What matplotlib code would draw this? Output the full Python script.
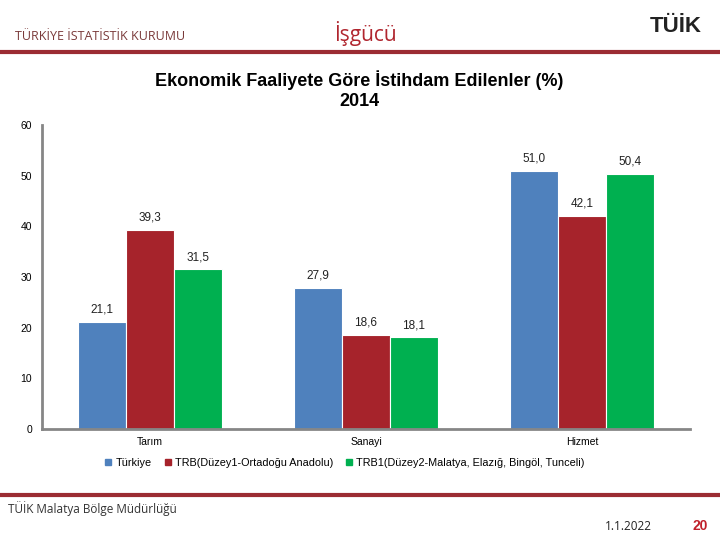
import matplotlib
matplotlib.use("Agg")
import matplotlib.pyplot as plt
from matplotlib.lines import Line2D
from matplotlib.patches import Rectangle
import numpy as np

categories = ["Tarım", "Sanayi", "Hizmet"]
series_names = ["Türkiye", "TRB(Düzey1-Ortadoğu Anadolu)", "TRB1(Düzey2-Malatya, Elazığ, Bingöl, Tunceli)"]
turkiye = [21.1, 27.9, 51.0]
trb = [39.3, 18.6, 42.1]
trb1 = [31.5, 18.1, 50.4]
yticks = [0, 10, 20, 30, 40, 50, 60]
colors = ["#4F81BD", "#A6232B", "#00B050"]

plt.rcParams['font.family'] = ['Liberation Sans', 'DejaVu Sans']

W, H = 720, 540
fig = plt.figure(figsize=(7.2, 5.4), dpi=100)

def fx(px):
    return px / W

def fy(py):
    return 1 - py / H

ax = fig.add_axes([fx(42), fy(429), fx(690 - 42), (429 - 125) / H])
x = np.arange(len(categories))
bw = 0.222
for i, (vals, c) in enumerate(zip([turkiye, trb, trb1], colors)):
    pos = x + (i - 1) * bw
    ax.bar(pos, vals, width=bw, color=c, edgecolor="white", linewidth=0.8, zorder=2)
    for p, v in zip(pos, vals):
        ax.annotate(f"{v:.1f}".replace(".", ","), (p, v), xytext=(0, 4.5), textcoords="offset points",
                    ha="center", va="bottom", fontsize=8.5, color="#222222")

ax.set_xlim(-0.5, 2.5)
ax.set_ylim(0, 60)
ax.set_yticks(yticks)
ax.set_yticklabels([str(t) for t in yticks], fontsize=7.5)
ax.set_xticks(x)
ax.set_xticklabels(categories, fontsize=7.5)
ax.tick_params(axis="y", length=0, pad=7)
ax.tick_params(axis="x", length=0, pad=6)
for s in ["top", "right"]:
    ax.spines[s].set_visible(False)
for s in ["left", "bottom"]:
    ax.spines[s].set_color("#868686")
    ax.spines[s].set_linewidth(2)
ax.set_facecolor("none")

handles = [Rectangle((0, 0), 1, 1, color=c) for c in colors]
fig.legend(handles, series_names, loc="center", bbox_to_anchor=(fx(345), fy(463)),
           ncol=3, frameon=False, fontsize=7.8, handlelength=0.55, handleheight=0.55,
           handletextpad=0.4, columnspacing=1.2)

# Header
fig.text(fx(15), fy(36), "TÜRKİYE İSTATİSTİK KURUMU", fontsize=9, color="#7A3A3A",
         ha="left", va="center", family=["Open Sans", "DejaVu Sans"])
fig.text(fx(365), fy(33), "İşgücü", fontsize=15, color="#B0252E", ha="center", va="center",
         family=["Open Sans", "DejaVu Sans"])
fig.text(fx(676), fy(26), "TÜİK", fontsize=16, color="#222222", ha="center", va="center",
         fontweight="bold", family=["Liberation Sans Narrow", "Liberation Sans", "DejaVu Sans"])
fig.add_artist(Line2D([0, 1], [fy(52), fy(52)], color="#9B2C33", linewidth=3, transform=fig.transFigure))

# Title
fig.text(fx(359), fy(80), "Ekonomik Faaliyete Göre İstihdam Edilenler (%)", fontsize=13,
         fontweight="bold", ha="center", va="center")
fig.text(fx(359), fy(101), "2014", fontsize=13, fontweight="bold", ha="center", va="center")

# Footer
fig.add_artist(Line2D([0, 1], [fy(495), fy(495)], color="#9B2C33", linewidth=3, transform=fig.transFigure))
fig.text(fx(8), fy(509), "TÜİK Malatya Bölge Müdürlüğü", fontsize=8.5, color="#333333",
         ha="left", va="center", family=["Open Sans", "DejaVu Sans"])
fig.text(fx(628), fy(527), "1.1.2022", fontsize=8.5, color="#222222", ha="center", va="center",
         family=["Open Sans", "DejaVu Sans"])
fig.text(fx(700), fy(526), "20", fontsize=10, color="#C0202A", fontweight="bold",
         ha="center", va="center")

fig.savefig("out.png", dpi=100)
